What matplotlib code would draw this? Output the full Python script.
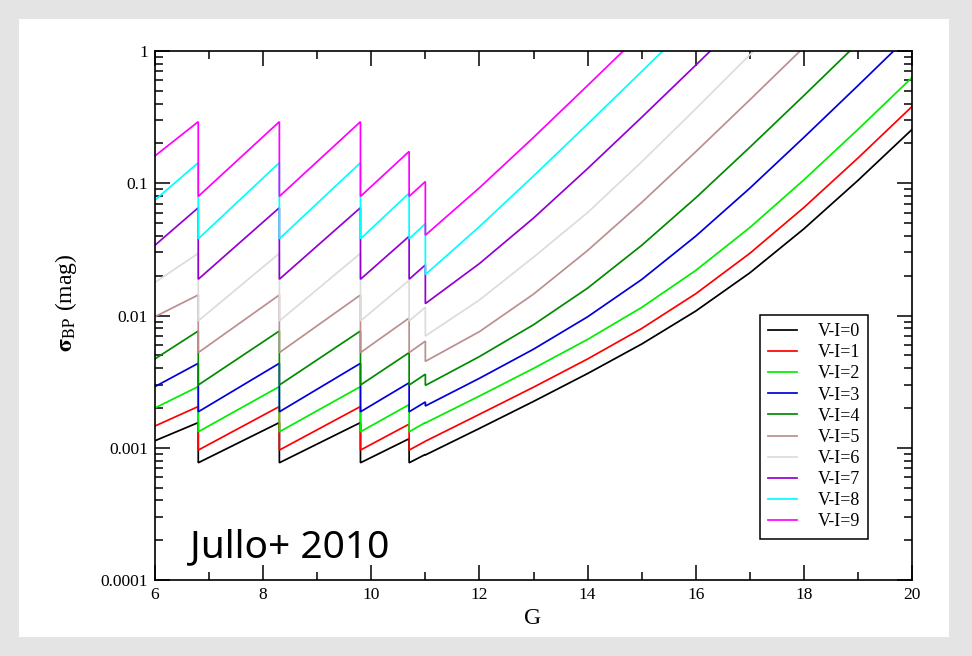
import matplotlib
matplotlib.use("Agg")
import matplotlib.pyplot as plt
from matplotlib.patches import Rectangle
from matplotlib.ticker import FixedLocator, LogLocator, NullFormatter

plt.rcParams['font.family'] = ['Liberation Serif', 'DejaVu Serif']
plt.rcParams['mathtext.fontset'] = 'stix'

# Bright end: gated sawtooth in G (value before and after each gate switch)
g_saw = [6.0, 6.8, 6.8, 8.3, 8.3, 9.8, 9.8, 10.7, 10.7, 11.0]
# Faint end: smooth part, sampled every magnitude from G = 11
g_tail = [11, 12, 13, 14, 15, 16, 17, 18, 19, 20]

labels = ["V-I=0", "V-I=1", "V-I=2", "V-I=3", "V-I=4",
          "V-I=5", "V-I=6", "V-I=7", "V-I=8", "V-I=9"]
colors = ["#000000", "#ff0000", "#00ee00", "#0000dd", "#008b00",
          "#bc8f8f", "#dcdcdc", "#9400d3", "#00ffff", "#ff00ff"]

saw_vi0 = [0.00113, 0.00155, 0.00077, 0.00155, 0.00077, 0.00155, 0.00077, 0.00117, 0.00077, 0.00089]
saw_vi1 = [0.00146, 0.00205, 0.00096, 0.00205, 0.00096, 0.00205, 0.00096, 0.00151, 0.00096, 0.00112]
saw_vi2 = [0.0020, 0.0029, 0.00132, 0.0029, 0.00132, 0.0029, 0.00132, 0.00212, 0.00132, 0.00155]
saw_vi3 = [0.0029, 0.00435, 0.00187, 0.00435, 0.00187, 0.00435, 0.00187, 0.0031, 0.00187, 0.00222]
saw_vi4 = [0.0047, 0.00764, 0.00298, 0.00764, 0.00298, 0.00764, 0.00298, 0.00524, 0.00298, 0.0036]
saw_vi5 = [0.0098, 0.0143, 0.00524, 0.0143, 0.00524, 0.0143, 0.00524, 0.00957, 0.00524, 0.0064]
saw_vi6 = [0.0178, 0.0295, 0.0091, 0.0295, 0.0091, 0.0295, 0.0091, 0.01845, 0.0091, 0.01153]
saw_vi7 = [0.034, 0.0653, 0.0188, 0.0653, 0.0188, 0.0653, 0.0188, 0.0397, 0.0188, 0.0241]
saw_vi8 = [0.0747, 0.143, 0.038, 0.143, 0.038, 0.143, 0.038, 0.0841, 0.038, 0.0495]
saw_vi9 = [0.161, 0.292, 0.0795, 0.292, 0.0795, 0.292, 0.0795, 0.174, 0.0795, 0.103]

tail_vi0 = [0.000882, 0.00140, 0.00224, 0.00364, 0.00608, 0.0108, 0.0210, 0.0452, 0.105, 0.255]
tail_vi1 = [0.00112, 0.00179, 0.00287, 0.00469, 0.00797, 0.0146, 0.0295, 0.0655, 0.155, 0.380]
tail_vi2 = [0.00154, 0.00246, 0.00398, 0.00659, 0.0115, 0.0219, 0.0462, 0.106, 0.255, 0.630]
tail_vi3 = [0.00207, 0.00335, 0.00556, 0.00977, 0.0187, 0.0398, 0.0917, 0.222, 0.547]
tail_vi4 = [0.00296, 0.00489, 0.00851, 0.0161, 0.0339, 0.0775, 0.187, 0.460]
tail_vi5 = [0.0045, 0.00755, 0.0145, 0.0310, 0.0715, 0.173, 0.427]
tail_vi6 = [0.0070, 0.0131, 0.0276, 0.060, 0.145, 0.365]
tail_vi7 = [0.0123, 0.0247, 0.0545, 0.129, 0.315, 0.781]
tail_vi8 = [0.0204, 0.0470, 0.1135, 0.280, 0.699]
tail_vi9 = [0.0405, 0.0924, 0.222, 0.548]

# G at which each faint curve leaves the top of the plot (sigma = 1 mag)
g_exit = [None, None, None, 19.66, 18.85, 17.93, 17.07, 16.27, 15.39, 14.66]

saws = [saw_vi0, saw_vi1, saw_vi2, saw_vi3, saw_vi4,
        saw_vi5, saw_vi6, saw_vi7, saw_vi8, saw_vi9]
tails = [tail_vi0, tail_vi1, tail_vi2, tail_vi3, tail_vi4,
         tail_vi5, tail_vi6, tail_vi7, tail_vi8, tail_vi9]

W, H = 972, 656
fig = plt.figure(figsize=(W / 100, H / 100), dpi=100, facecolor="#e4e4e4")
fig.patches.append(Rectangle((19 / W, 1 - 637 / H), (949 - 19) / W, (637 - 19) / H,
                             transform=fig.transFigure, facecolor="white",
                             edgecolor="none", zorder=-5))

ax = fig.add_axes([155 / W, 1 - 580 / H, (912 - 155) / W, (580 - 51) / H])
ax.set_facecolor("white")
ax.set_zorder(2)

for lab, col, sv, tv, gx in zip(labels, colors, saws, tails, g_exit):
    gs = list(g_saw) + list(g_tail[:len(tv)])
    vs = list(sv) + list(tv)
    if gx is not None:
        gs.append(gx)
        vs.append(1.0)
    ax.plot(gs, vs, color=col, lw=1.25, label=lab, solid_joinstyle="miter")

ax.set_yscale("log")
ax.set_xlim(6, 20)
ax.set_ylim(1e-4, 1)

ax.xaxis.set_major_locator(FixedLocator([6, 8, 10, 12, 14, 16, 18, 20]))
ax.xaxis.set_minor_locator(FixedLocator([7, 9, 11, 13, 15, 17, 19]))
ax.set_xticklabels(["6", "8", "10", "12", "14", "16", "18", "20"])
ax.yaxis.set_major_locator(FixedLocator([1e-4, 1e-3, 1e-2, 1e-1, 1]))
ax.set_yticklabels(["0.0001", "0.001", "0.01", "0.1", "1"])
ax.yaxis.set_minor_locator(LogLocator(base=10, subs=range(2, 10)))
ax.yaxis.set_minor_formatter(NullFormatter())

ax.tick_params(which="both", direction="in", top=True, right=True,
               width=1.1, labelsize=12.5, pad=5)
ax.tick_params(which="major", length=10.5)
ax.tick_params(which="minor", length=6)
for sp in ax.spines.values():
    sp.set_linewidth(1.2)

fig.text(533 / W, 1 - 618 / H, "G", ha="center", va="center", fontsize=17)
fig.text(66 / W, 1 - 303 / H, r"$\mathbf{\sigma}_{\mathrm{BP}}$ (mag)", rotation=90,
         ha="center", va="center", fontsize=17)

leg = ax.legend(loc="upper left", bbox_to_anchor=(760 / W, 1 - 315 / H),
                bbox_transform=fig.transFigure, borderaxespad=0,
                fontsize=13, handlelength=1.6, handletextpad=1.15,
                labelspacing=0.23, borderpad=0.45, fancybox=False,
                framealpha=1, edgecolor="black")
leg.get_frame().set_linewidth(1.1)

fig.text(190 / W, 1 - 557 / H, "Jullo+ 2010", fontsize=28, zorder=5,
         family=["Noto Sans", "DejaVu Sans"], ha="left", va="baseline")

fig.savefig("out.png", dpi=100, facecolor=fig.get_facecolor())
